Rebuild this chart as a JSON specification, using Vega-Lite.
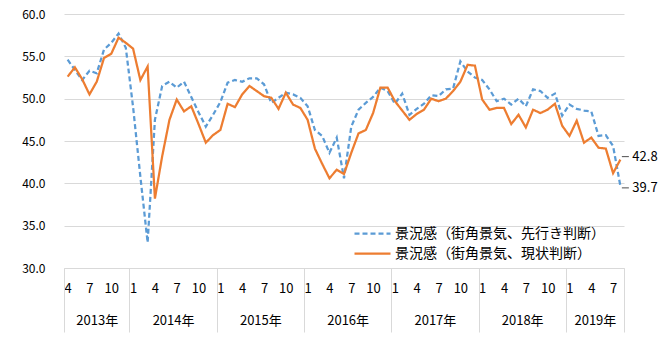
{
  "$schema": "https://vega.github.io/schema/vega-lite/v6.json",
  "width": 560,
  "height": 254,
  "autosize": "none",
  "padding": {"left": 64, "top": 14, "right": 47, "bottom": 90},
  "background": "#ffffff",
  "config": {
    "view": {"stroke": null},
    "font": "Noto Sans CJK JP, sans-serif",
    "text": {"font": "Noto Sans CJK JP, sans-serif"},
    "axis": {"labelColor": "#000000", "labelFont": "Noto Sans CJK JP, sans-serif", "labelOverlap": false, "labelBound": false, "labelFlush": false},
    "axisX": {"labelFont": "Noto Sans CJK JP, sans-serif"}
  },
  "data": {
    "values": [
      {"t": 0, "先行き判断": 54.6, "現状判断": 52.6},
      {"t": 1, "先行き判断": 53.4, "現状判断": 53.7},
      {"t": 2, "先行き判断": 52.2, "現状判断": 52.3},
      {"t": 3, "先行き判断": 53.3, "現状判断": 50.5},
      {"t": 4, "先行き判断": 53.0, "現状判断": 52.0},
      {"t": 5, "先行き判断": 55.8, "現状判断": 54.8},
      {"t": 6, "先行き判断": 56.6, "現状判断": 55.3},
      {"t": 7, "先行き判断": 57.7, "現状判断": 57.2},
      {"t": 8, "先行き判断": 56.0, "現状判断": 56.6},
      {"t": 9, "先行き判断": 49.0, "現状判断": 55.9},
      {"t": 10, "先行き判断": 40.8, "現状判断": 52.2},
      {"t": 11, "先行き判断": 33.0, "現状判断": 53.8},
      {"t": 12, "先行き判断": 47.5, "現状判断": 38.2},
      {"t": 13, "先行き判断": 51.5, "現状判断": 43.2},
      {"t": 14, "先行き判断": 52.0, "現状判断": 47.5},
      {"t": 15, "先行き判断": 51.3, "現状判断": 49.9},
      {"t": 16, "先行き判断": 52.0, "現状判断": 48.5},
      {"t": 17, "先行き判断": 50.2, "現状判断": 49.1},
      {"t": 18, "先行き判断": 48.4, "現状判断": 47.0},
      {"t": 19, "先行き判断": 46.7, "現状判断": 44.8},
      {"t": 20, "先行き判断": 48.1, "現状判断": 45.7},
      {"t": 21, "先行き判断": 49.6, "現状判断": 46.3},
      {"t": 22, "先行き判断": 51.9, "現状判断": 49.4},
      {"t": 23, "先行き判断": 52.2, "現状判断": 49.0},
      {"t": 24, "先行き判断": 52.0, "現状判断": 50.5},
      {"t": 25, "先行き判断": 52.4, "現状判断": 51.5},
      {"t": 26, "先行き判断": 52.4, "現状判断": 50.9},
      {"t": 27, "先行き判断": 51.7, "現状判断": 50.3},
      {"t": 28, "先行き判断": 49.5, "現状判断": 50.1},
      {"t": 29, "先行き判断": 50.1, "現状判断": 48.8},
      {"t": 30, "先行き判断": 50.7, "現状判断": 50.7},
      {"t": 31, "先行き判断": 50.5, "現状判断": 49.3},
      {"t": 32, "先行き判断": 50.1, "現状判断": 48.9},
      {"t": 33, "先行き判断": 49.1, "現状判断": 47.5},
      {"t": 34, "先行き判断": 46.3, "現状判断": 44.1},
      {"t": 35, "先行き判断": 45.6, "現状判断": 42.3},
      {"t": 36, "先行き判断": 43.6, "現状判断": 40.6},
      {"t": 37, "先行き判断": 45.4, "現状判断": 41.6},
      {"t": 38, "先行き判断": 40.6, "現状判断": 41.1},
      {"t": 39, "先行き判断": 46.7, "現状判断": 43.6},
      {"t": 40, "先行き判断": 48.7, "現状判断": 45.9},
      {"t": 41, "先行き判断": 49.5, "現状判断": 46.3},
      {"t": 42, "先行き判断": 50.2, "現状判断": 48.3},
      {"t": 43, "先行き判断": 51.3, "現状判断": 51.3},
      {"t": 44, "先行き判断": 50.9, "現状判断": 51.3},
      {"t": 45, "先行き判断": 49.4, "現状判断": 49.7},
      {"t": 46, "先行き判断": 50.6, "現状判断": 48.6},
      {"t": 47, "先行き判断": 48.1, "現状判断": 47.5},
      {"t": 48, "先行き判断": 48.8, "現状判断": 48.2},
      {"t": 49, "先行き判断": 49.4, "現状判断": 48.7},
      {"t": 50, "先行き判断": 50.4, "現状判断": 50.0},
      {"t": 51, "先行き判断": 50.3, "現状判断": 49.7},
      {"t": 52, "先行き判断": 51.1, "現状判断": 50.0},
      {"t": 53, "先行き判断": 51.2, "現状判断": 50.9},
      {"t": 54, "先行き判断": 54.4, "現状判断": 52.0},
      {"t": 55, "先行き判断": 53.2, "現状判断": 54.0},
      {"t": 56, "先行き判断": 52.5, "現状判断": 53.9},
      {"t": 57, "先行き判断": 52.2, "現状判断": 49.9},
      {"t": 58, "先行き判断": 51.1, "現状判断": 48.7},
      {"t": 59, "先行き判断": 49.7, "現状判断": 48.9},
      {"t": 60, "先行き判断": 50.0, "現状判断": 48.9},
      {"t": 61, "先行き判断": 49.3, "現状判断": 47.0},
      {"t": 62, "先行き判断": 50.0, "現状判断": 48.1},
      {"t": 63, "先行き判断": 49.1, "現状判断": 46.6},
      {"t": 64, "先行き判断": 51.1, "現状判断": 48.7},
      {"t": 65, "先行き判断": 50.9, "現状判断": 48.3},
      {"t": 66, "先行き判断": 50.1, "現状判断": 48.7},
      {"t": 67, "先行き判断": 50.6, "現状判断": 49.4},
      {"t": 68, "先行き判断": 48.0, "現状判断": 46.8},
      {"t": 69, "先行き判断": 49.3, "現状判断": 45.6},
      {"t": 70, "先行き判断": 48.8, "現状判断": 47.4},
      {"t": 71, "先行き判断": 48.6, "現状判断": 44.8},
      {"t": 72, "先行き判断": 48.5, "現状判断": 45.4},
      {"t": 73, "先行き判断": 45.6, "現状判断": 44.2},
      {"t": 74, "先行き判断": 45.7, "現状判断": 44.1},
      {"t": 75, "先行き判断": 44.4, "現状判断": 41.2},
      {"t": 76, "先行き判断": 39.7, "現状判断": 42.8}
    ]
  },
  "transform": [{"fold": ["先行き判断", "現状判断"], "as": ["s", "v"]}],
  "layer": [
    {
      "mark": {"type": "line", "strokeWidth": 2.25},
      "encoding": {
        "x": {
          "field": "t", "type": "quantitative",
          "scale": {"domain": [-0.5, 76.5], "nice": false, "zero": false},
          "axis": {"orient": "bottom", "title": null, "values": [0, 3, 6, 9, 12, 15, 18, 21, 24, 27, 30, 33, 36, 39, 42, 45, 48, 51, 54, 57, 60, 63, 66, 69, 72, 75],
                   "labelExpr": "'' + ((datum.value + 3) % 12 + 1)", "ticks": false, "domain": false, "grid": false, "labelPadding": 14, "labelFontSize": 13, "labelFont": "Noto Sans CJK JP, sans-serif"}
        },
        "y": {
          "field": "v", "type": "quantitative",
          "scale": {"domain": [30, 60], "nice": false, "zero": false},
          "axis": {"title": null, "values": [30, 35, 40, 45, 50, 55, 60], "format": ".1f", "ticks": false, "domain": false, "grid": true,
                   "gridColor": "#d9d9d9", "gridWidth": 1, "labelPadding": 19, "labelFontSize": 12, "labelFont": "Noto Sans CJK JP, sans-serif"}
        },
        "color": {
          "field": "s", "type": "nominal",
          "scale": {"domain": ["先行き判断", "現状判断"], "range": ["#5b9bd5", "#ed7d31"]},
          "legend": {"orient": "none", "legendX": 301, "legendY": 212, "title": null, "padding": 0, "rowPadding": 5, "labelLimit": 400,
                     "labelExpr": "'景況感（街角景気、' + datum.label + '）'", "labelFontSize": 14, "labelFont": "Noto Sans CJK JP, sans-serif", "labelColor": "#000000",
                     "symbolType": "M-3,0H3", "symbolSize": 144, "symbolStrokeWidth": 2.25, "labelOffset": 15}
        },
        "strokeDash": {
          "field": "s", "type": "nominal",
          "scale": {"domain": ["先行き判断", "現状判断"], "range": [[5, 3], [1, 0]]},
          "legend": {"orient": "none", "legendX": 301, "legendY": 212, "title": null, "padding": 0, "rowPadding": 5, "labelLimit": 400,
                     "labelExpr": "'景況感（街角景気、' + datum.label + '）'", "labelFontSize": 14, "labelFont": "Noto Sans CJK JP, sans-serif", "labelColor": "#000000",
                     "symbolType": "M-3,0H3", "symbolSize": 144, "symbolStrokeWidth": 2.25, "labelOffset": 15}
        }
      }
    },
    {
      "transform": [{"filter": "datum.t == 76 && datum.s == '現状判断'"}],
      "mark": {"type": "text", "align": "left", "baseline": "middle", "dx": 12, "dy": -3, "fontSize": 13, "color": "#000000", "font": "Noto Sans CJK JP, sans-serif"},
      "encoding": {
        "x": {"field": "t", "type": "quantitative",
              "axis": {"orient": "bottom", "title": null, "values": [-0.5, 8.5, 20.5, 32.5, 44.5, 56.5, 68.5, 76.5], "labels": false,
                       "ticks": true, "tickSize": 64, "tickColor": "#d9d9d9", "domain": true, "domainColor": "#d9d9d9", "grid": false}},
        "y": {"field": "v", "type": "quantitative"},
        "text": {"field": "v", "type": "quantitative", "format": ".1f"}
      }
    },
    {
      "transform": [{"filter": "datum.t == 76 && datum.s == '先行き判断'"}],
      "mark": {"type": "text", "align": "left", "baseline": "middle", "dx": 12, "dy": 2, "fontSize": 13, "color": "#000000", "font": "Noto Sans CJK JP, sans-serif"},
      "encoding": {
        "x": {"field": "t", "type": "quantitative",
              "axis": {"orient": "bottom", "title": null, "values": [4, 14.5, 26.5, 38.5, 50.5, 62.5, 72.5],
                       "labelExpr": "floor((datum.value + 3) / 12) + 2013 + '年'", "ticks": false, "domain": false, "grid": false,
                       "labelPadding": 46, "labelFontSize": 13, "labelFont": "Noto Sans CJK JP, sans-serif"}},
        "y": {"field": "v", "type": "quantitative"},
        "text": {"field": "v", "type": "quantitative", "format": ".1f"}
      }
    },
    {
      "transform": [{"filter": "datum.t == 76 && datum.s == '現状判断'"}],
      "mark": {"type": "tick", "orient": "horizontal", "size": 7, "thickness": 1, "color": "#000000", "xOffset": 5, "yOffset": -3},
      "encoding": {
        "x": {"field": "t", "type": "quantitative", "axis": null},
        "y": {"field": "v", "type": "quantitative"}
      }
    },
    {
      "transform": [{"filter": "datum.t == 76 && datum.s == '先行き判断'"}],
      "mark": {"type": "tick", "orient": "horizontal", "size": 7, "thickness": 1, "color": "#000000", "xOffset": 5, "yOffset": 2},
      "encoding": {
        "x": {"field": "t", "type": "quantitative", "axis": null},
        "y": {"field": "v", "type": "quantitative"}
      }
    }
  ],
  "resolve": {"axis": {"x": "independent"}}
}
